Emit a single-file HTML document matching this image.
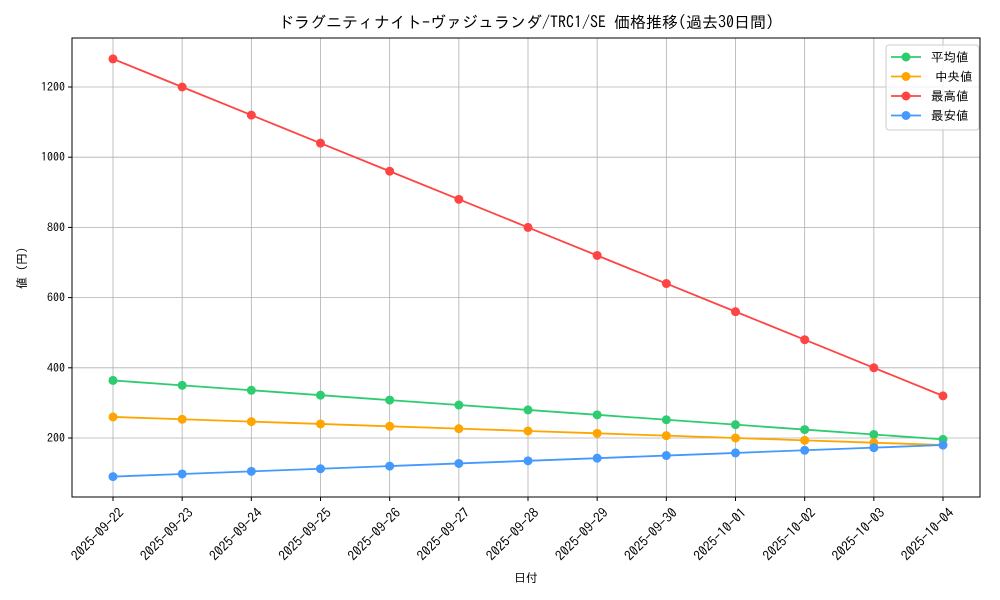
<!DOCTYPE html>
<html><head><meta charset="utf-8"><style>body{margin:0;background:#fff}svg{display:block}text{font-family:"IPAGothic","Liberation Sans","Noto Sans CJK JP",sans-serif;fill:#000}</style></head>
<body>
<svg id="s" width="1000" height="600" xmlns="http://www.w3.org/2000/svg">
<rect width="1000" height="600" fill="#fff"/>
<text x="526" y="28" font-size="16" text-anchor="middle">ドラグニティナイト-ヴァジュランダ/TRC1/SE 価格推移(過去30日間)</text>
<g id="g"></g>
<rect x="72" y="38" width="908" height="459" fill="none" stroke="#000" stroke-width="1"/>
<text x="526" y="582" font-size="12" text-anchor="middle">日付</text>
<text transform="translate(26,268) rotate(-90)" font-size="12" text-anchor="middle">値 (円)</text>
<rect x="886" y="45" width="93" height="85" rx="3" fill="#fff" fill-opacity="0.8" stroke="#ccc"/>
</svg>
<script>
const g=document.getElementById('g');let h='';
const X=i=>113+i*830/12, Y=v=>508.2-v*0.351;
const dates=['2025-09-22','2025-09-23','2025-09-24','2025-09-25','2025-09-26','2025-09-27','2025-09-28','2025-09-29','2025-09-30','2025-10-01','2025-10-02','2025-10-03','2025-10-04'];
for(let i=0;i<13;i++){const x=X(i);h+=`<line x1="${x}" y1="38" x2="${x}" y2="497" stroke="#b0b0b0" stroke-width="0.8"/><line x1="${x}" y1="497" x2="${x}" y2="501" stroke="#000"/><text transform="translate(${x+5},507) rotate(-45)" font-size="13.5" text-anchor="end" dy="0.7em">${dates[i]}</text>`;}
for(let v=200;v<=1200;v+=200){const y=Y(v);h+=`<line x1="72" y1="${y}" x2="980" y2="${y}" stroke="#b0b0b0" stroke-width="0.8"/><line x1="68" y1="${y}" x2="72" y2="${y}" stroke="#000"/><text x="65" y="${y+4}" font-size="12" text-anchor="end">${v}</text>`;}
const S=[['#2ecc71',i=>364-14*i,'平均値',0],['#ffa500',i=>260-80*i/12,'中央値',4],['#ff4444',i=>1280-80*i,'最高値',0],['#4499ff',i=>90+7.5*i,'最安値',0]];
S.forEach((s,k)=>{let p=[];for(let i=0;i<13;i++)p.push(X(i)+','+Y(s[1](i)));h+=`<polyline points="${p.join(' ')}" fill="none" stroke="${s[0]}" stroke-width="1.8"/>`;p.forEach(q=>{const[a,b]=q.split(',');h+=`<circle cx="${a}" cy="${b}" r="4.5" fill="${s[0]}"/>`});});
g.innerHTML=h;
let L='';S.forEach((s,k)=>{const y=57+k*19.5;L+=`<line x1="891" y1="${y}" x2="921" y2="${y}" stroke="${s[0]}" stroke-width="1.8"/><circle cx="906" cy="${y}" r="4.5" fill="${s[0]}"/><text x="${931+s[3]}" y="${y+4.5}" font-size="12.5">${s[2]}</text>`;});
document.getElementById('s').insertAdjacentHTML('beforeend',L);
</script>
</body></html>
